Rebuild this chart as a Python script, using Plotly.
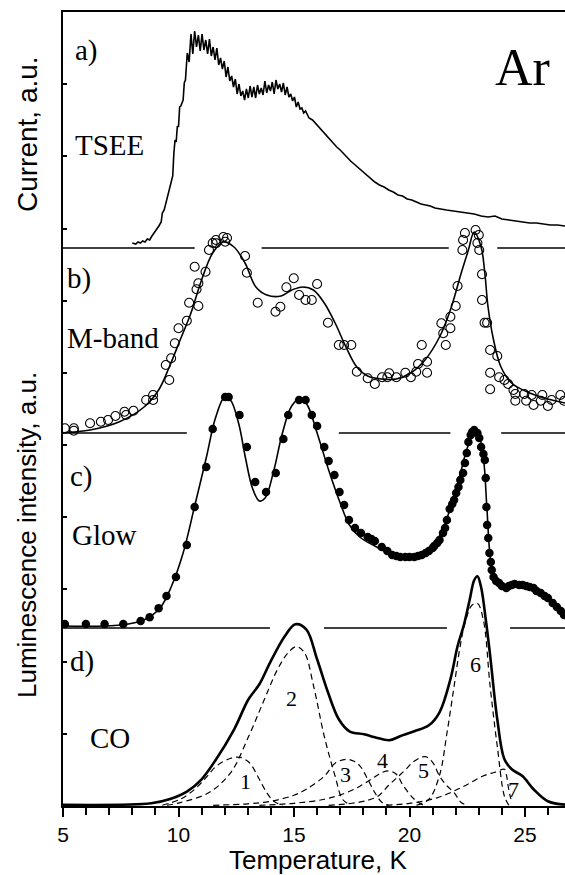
import plotly.graph_objects as go

# ---------------- data (intensities in arbitrary units) ----------------
# a) TSEE current
TSEE_T = [8.00, 8.15, 8.25, 8.35, 8.45, 8.55, 8.65, 8.75, 8.85, 8.95, 9.05, 9.15, 9.25, 9.30, 9.38,
          9.45, 9.52, 9.60, 9.68, 9.75, 9.80, 9.85, 9.90, 9.95, 10.00, 10.05, 10.10, 10.15, 10.20,
          10.25, 10.30, 10.38, 10.46, 10.54, 10.62, 10.70, 10.78, 10.86, 10.94, 11.02, 11.10, 11.18,
          11.26, 11.34, 11.42, 11.50, 11.58, 11.66, 11.74, 11.82, 11.90, 11.98, 12.06, 12.14, 12.22,
          12.30, 12.38, 12.46, 12.54, 12.62, 12.70, 12.78, 12.86, 12.94, 13.02, 13.10, 13.18, 13.26,
          13.34, 13.42, 13.50, 13.58, 13.66, 13.74, 13.82, 13.90, 13.98, 14.06, 14.14, 14.22, 14.30,
          14.38, 14.46, 14.54, 14.62, 14.70, 14.78, 14.86, 14.94, 15.02, 15.10, 15.18, 15.26, 15.34,
          15.42, 15.50, 15.65, 15.80, 15.95, 16.10, 16.25, 16.40, 16.55, 16.70, 16.85, 17.00, 17.15,
          17.30, 17.45, 17.60, 17.75, 17.90, 18.05, 18.20, 18.35, 18.50, 18.70, 18.90, 19.10, 19.30,
          19.50, 19.70, 19.90, 20.10, 20.30, 20.50, 20.70, 20.90, 21.10, 21.30, 21.60, 21.90, 22.20,
          22.50, 22.80, 23.10, 23.40, 23.70, 24.00, 24.30, 24.60, 24.90, 25.20, 25.50, 25.80, 26.10,
          26.40, 26.73]
TSEE_I = [5, 4, 6, 5, 7, 6, 9, 8, 12, 15, 18, 22, 26, 35, 38,
          45, 52, 58, 66, 72, 95, 108, 106, 122, 121, 141, 142, 145, 148,
          165, 168, 195, 186, 214, 194, 217, 201, 213, 197, 214, 198, 208,
          194, 209, 192, 201, 188, 200, 183, 190, 179, 187, 171, 181, 167,
          172, 161, 169, 154, 164, 152, 157, 148, 159, 150, 162, 151, 161,
          150, 163, 154, 160, 153, 167, 155, 163, 157, 166, 154, 168, 159,
          164, 156, 165, 153, 161, 151, 154, 147, 151, 141, 146, 139, 140,
          135, 137, 130, 128, 124, 120, 116, 112, 108, 104, 101, 98, 94,
          91, 87, 84, 81, 78, 75, 72, 69, 66, 63, 61, 58, 56,
          53, 52, 49, 48, 46, 44, 43, 42, 40, 39, 38, 37, 36,
          35, 34, 32, 31, 32, 29, 28, 27, 26, 25, 25, 24, 23,
          23, 22]

# b) M-band: measured points (open circles) and fitted curve
MB_T = [5.08, 5.47, 5.47, 6.17, 6.64, 6.95, 7.27, 7.66, 7.73, 8.05, 8.6, 8.9, 8.9, 9.45, 9.68, 9.6,
        9.84, 10.0, 10.36, 10.46, 10.78, 10.86, 10.86, 10.7, 11.17, 11.32, 11.48, 11.62, 11.63,
        11.94, 12.02, 12.1, 12.88, 12.96, 13.43, 14.2, 14.41, 14.67, 14.99, 15.22, 15.5, 15.77,
        16.0, 16.47, 16.94, 17.17, 17.48, 17.72, 18.19, 18.5, 18.81, 19.04, 19.12, 19.43, 19.82,
        20.06, 20.29, 20.37, 20.53, 20.76, 20.76, 21.38, 21.46, 21.57, 21.77, 21.77, 22.0, 22.08,
        22.29, 22.32, 22.4, 22.86, 23.0, 22.94, 23.02, 23.14, 23.14, 23.25, 23.36, 23.49, 23.8,
        23.49, 23.49, 23.88, 24.11, 24.27, 24.5, 24.58, 24.58, 24.97, 25.05, 25.29, 25.37, 25.68,
        25.75, 25.99, 26.15, 26.53, 26.69]
MB_I = [4.7, 4.7, 2.3, 9.7, 11.3, 13, 17, 21.3, 18, 22.3, 33, 38, 33, 68, 74.7, 53,
        89.7, 104.7, 112.3, 130.3, 143.7, 149.7, 127, 166.3, 161.3, 183, 190, 193, 189.7,
        196, 191.3, 195, 177, 160.3, 130.3, 121.3, 126.3, 145.7, 154.7, 138, 133, 133,
        149, 110.3, 88, 88, 88, 61.3, 54.7, 49, 55.7, 55.7, 59.7, 55.7, 60.3,
        55.7, 61.3, 69, 88, 71.3, 60.3, 109.7, 99.7, 88, 104.7, 116.3, 127, 147,
        183, 193, 200, 203, 198, 190, 183, 158.7, 133, 110.3, 110.3, 83, 77,
        60.3, 43.7, 55.7, 53, 49, 43, 39, 32.3, 39, 32.3, 38, 28, 32.3,
        38, 27, 33, 38, 32.3]
MB_FIT_T = [5.0, 6.17, 7.42, 8.51, 9.14, 9.6, 10.07, 10.54, 11.0, 11.48, 11.94, 12.4, 12.88, 13.35,
            13.82, 14.44, 14.91, 15.38, 15.84, 16.31, 16.78, 17.25, 17.72, 18.19, 18.8, 19.43, 20.05,
            20.67, 21.3, 21.77, 22.24, 22.55, 22.8, 23.1, 23.26, 23.4, 23.64, 23.96, 24.42, 25.2,
            25.98, 26.73]
MB_FIT_I = [0.3, 3, 11, 26, 43, 66, 93, 120, 153, 180, 191, 186, 170, 146,
            138, 137, 143, 146, 143, 130, 110, 86, 66, 57, 54, 54, 60,
            73, 96, 123, 160, 183, 201, 186, 160, 126, 93, 66, 50, 40,
            34, 30]

# c) Glow: measured points (filled circles) and fitted curve
GL_T = [5.08, 5.99, 6.8, 7.61, 8.36, 8.75, 9.14, 9.48, 9.89, 10.36, 10.7, 11.2, 11.48, 12.02, 12.17,
        12.64, 12.96, 13.32, 13.79, 14.21, 14.54, 14.75, 15.22, 15.5, 15.77, 16.0, 16.31, 16.5,
        16.75, 16.97, 17.17, 17.38, 17.64, 17.9, 18.19, 18.35, 18.5, 18.8, 19.04, 19.25, 19.43,
        19.6, 19.82, 20.0, 20.21, 20.37, 20.53, 20.7, 20.84, 21.0, 21.07, 21.2, 21.3, 21.45, 21.54,
        21.62, 21.74, 21.85, 21.93, 22.02, 22.12, 22.2, 22.32, 22.4, 22.48, 22.55, 22.65, 22.71,
        22.8, 22.94, 23.02, 23.1, 23.2, 23.26, 23.3, 23.33, 23.36, 23.41, 23.46, 23.52, 23.56,
        23.64, 23.75, 23.88, 24.0, 24.19, 24.3, 24.43, 24.55, 24.74, 24.9, 25.05, 25.2, 25.37,
        25.5, 25.68, 25.85, 25.99, 26.2, 26.38, 26.55, 26.69]
GL_I = [4, 4, 4, 4, 7, 10.7, 19.7, 32, 51, 83, 121, 161, 199, 231, 231,
        213, 181, 146, 136, 155, 189, 213, 228, 228, 213, 202, 181, 167,
        153, 136, 123, 108, 100, 95, 91, 89, 87, 81, 77, 73, 72,
        71, 71, 71, 71, 72, 73, 75, 77, 80, 82, 85, 88, 95, 100,
        108, 119, 124, 128, 135, 141, 148, 155, 165, 175, 186, 193, 196,
        198, 195, 190, 181, 174, 168, 150, 121, 103, 90, 75, 66, 58,
        51, 47, 45, 42, 40, 42, 43, 44, 43, 43, 42, 41, 40,
        37, 35, 32, 30, 25, 21, 17, 13]
GL_FIT_T = [5.0, 7.5, 8.5, 9.2, 9.7, 10.2, 10.7, 11.2, 11.6, 12.0, 12.25, 12.6, 12.9, 13.2, 13.5,
            13.75, 14.1, 14.5, 14.9, 15.3, 15.6, 16.0, 16.5, 17.0, 17.4, 17.9, 18.5, 19.2, 19.8,
            20.3, 20.8, 21.3, 21.7, 22.1, 22.5, 22.8, 23.0, 23.2, 23.35, 23.5, 23.7, 24.0, 24.4,
            24.9, 25.4, 26.0, 26.73]
GL_FIT_I = [2, 3, 8, 20, 42, 75, 122, 170, 210, 231, 228, 205, 170, 140, 127,
            130, 155, 195, 222, 230, 222, 195, 158, 125, 103, 90, 82, 74, 71,
            72, 78, 92, 115, 145, 180, 195, 192, 170, 120, 70, 48, 42, 44,
            42, 38, 28, 12]

# d) CO: total curve and decomposition into components 1-7
CO_T = [5.0, 8.82, 9.6, 10.38, 11.0, 11.63, 12.41, 13.03, 13.5, 13.97, 14.6, 15.06, 15.53, 16.0,
        16.47, 16.94, 17.4, 18.03, 18.5, 19.12, 19.59, 20.21, 20.84, 21.3, 21.77, 22.08, 22.35,
        22.6, 22.8, 22.94, 23.1, 23.3, 23.49, 23.8, 24.11, 24.43, 24.9, 25.37, 25.99, 26.73]
CO_I = [0.5, 2, 6, 14, 26, 46, 76, 106, 121, 143, 169, 181, 176, 146,
        113, 86, 74, 71, 68, 65, 69, 74, 80, 93, 126, 159, 180,
        205, 225, 229, 218, 186, 150, 86, 46, 36, 29, 16, 4, 0.7]
COMP_T = {
    "1": [9.3, 10.07, 10.7, 11.2, 11.63, 12.26, 12.65, 13.0, 13.19, 13.5, 13.82, 14.13, 14.5],
    "2": [9.5, 10.07, 11.32, 12.26, 13.04, 13.66, 14.29, 14.75, 15.1, 15.45, 15.85, 16.31, 16.78, 17.1, 17.4],
    "3": [11.5, 13.0, 14.0, 15.0, 15.53, 16.31, 16.78, 17.25, 17.6, 17.87, 18.19, 18.5, 18.8, 19.1],
    "4": [13.5, 15.0, 16.31, 17.2, 17.87, 18.4, 18.8, 19.12, 19.43, 19.74, 20.21, 20.6],
    "5": [16.5, 17.5, 18.2, 18.65, 19.1, 19.43, 19.8, 20.2, 20.68, 21.0, 21.3, 21.6, 21.93, 22.24, 22.5],
    "6": [20.3, 20.84, 21.3, 21.62, 21.93, 22.2, 22.4, 22.7, 22.94, 23.2, 23.49, 23.8, 24.11, 24.3],
    "7": [19.0, 20.0, 20.84, 21.5, 22.08, 22.6, 23.18, 23.7, 24.11, 24.2, 24.27, 24.35, 24.43],
}
COMP_I = {
    "1": [0, 6, 16, 28, 39, 47, 48, 44, 39, 26, 12.7, 4, 0],
    "2": [0, 2.7, 12.7, 32.7, 69, 102.7, 136, 152.7, 158.7, 152.7, 119, 69, 29, 6, 1],
    "3": [0, 1.5, 4, 10, 16, 29, 42, 46, 44, 39, 26, 12.7, 3, 0],
    "4": [0, 2, 6, 12, 19.3, 27, 32.7, 34.3, 31, 19.3, 6, 0],
    "5": [0, 2, 5, 9.3, 20, 27, 35, 44, 48.7, 43, 29.3, 20, 12.7, 2.7, 0],
    "6": [0, 6, 30, 72, 119, 160, 182, 200, 202, 185, 119, 59, 9, 0],
    "7": [0, 2, 5.3, 10, 16, 22, 29.3, 33, 36, 30, 19.3, 10, 3],
}
COMP_LABEL_POS = {"1": (12.88, 24), "2": (14.88, 107), "3": (17.22, 31), "4": (18.84, 45),
                  "5": (20.6, 35), "6": (22.86, 141), "7": (24.51, 16)}

TICK_X = [5, 10, 15, 20, 25]

# ---------------- layout constants ----------------
W, H = 565, 875
ML, MR, MT, MB = 63, 0, 12, 69
PX_PER_K = 23.1
XMAX = 5 + (W - ML - MR) / PX_PER_K
PLOT_H = H - MT - MB
N_TICKS = 11
U = PLOT_H / N_TICKS          # pixels per y unit
SC = 1.0 / U                  # intensity (a.u.) -> y units

OFF = {"a": (H - MB - 248) / U, "b": (H - MB - 433) / U, "c": (H - MB - 628) / U, "d": 0.01}
SEPARATORS = {
    "a": [(5, 10.7), (13.6, 21.7), (23.8, XMAX)],
    "b": [(5, 10.36), (16.94, 21.77), (23.97, XMAX)],
    "c": [(5, 13.96), (16.3, 21.62), (24.35, XMAX)],
}

def sc(vals, panel):
    return [OFF[panel] + v * SC for v in vals]

def py(pix):  # page pixel -> y units
    return (H - MB - pix) / U

def px(pix):
    return 5 + (pix - ML) / PX_PER_K

fig = go.Figure()
BLACK = "black"

fig.add_trace(go.Scatter(x=TSEE_T, y=sc(TSEE_I, "a"), mode="lines",
                         line=dict(color=BLACK, width=1.6), hoverinfo="skip"))

fig.add_trace(go.Scatter(x=MB_FIT_T, y=sc(MB_FIT_I, "b"), mode="lines",
                         line=dict(color=BLACK, width=1.6, shape="spline", smoothing=1.0)))
fig.add_trace(go.Scatter(x=MB_T, y=sc(MB_I, "b"), mode="markers",
                         marker=dict(symbol="circle-open", size=9, color=BLACK, line=dict(width=1.1))))

fig.add_trace(go.Scatter(x=GL_FIT_T, y=sc(GL_FIT_I, "c"), mode="lines",
                         line=dict(color=BLACK, width=1.6, shape="spline", smoothing=1.0)))
fig.add_trace(go.Scatter(x=GL_T, y=sc(GL_I, "c"), mode="markers",
                         marker=dict(symbol="circle", size=8.5, color=BLACK)))

for k in COMP_T:
    fig.add_trace(go.Scatter(x=COMP_T[k], y=sc(COMP_I[k], "d"), mode="lines",
                             line=dict(color=BLACK, width=1.2, dash="6px,4px",
                                       shape="spline", smoothing=1.0)))
fig.add_trace(go.Scatter(x=CO_T, y=sc(CO_I, "d"), mode="lines",
                         line=dict(color=BLACK, width=2.6, shape="spline", smoothing=1.0)))

# separator lines
for p, segs in SEPARATORS.items():
    for x0, x1 in segs:
        fig.add_shape(type="line", xref="x", yref="y", x0=x0, x1=x1, y0=OFF[p], y1=OFF[p],
                      line=dict(color=BLACK, width=1.6))

SERIF = "Liberation Serif, Times New Roman, serif"
SANS = "Liberation Sans, Arial, sans-serif"

def label(text, xpix, ypix, size, anchor="left", font=SERIF):
    fig.add_annotation(x=px(xpix), y=py(ypix), xref="x", yref="y", text=text, showarrow=False,
                       xanchor=anchor, yanchor="middle", font=dict(family=font, size=size, color=BLACK))

label("a)", 73, 50, 29)
label("TSEE", 73, 145, 29)
label("b)", 65, 278, 29)
label("M-band", 65, 338, 29)
label("c)", 68, 476, 29)
label("Glow", 70, 535, 29)
label("d)", 68, 661, 29)
label("CO", 88, 738, 29)
label("Ar", 522, 67, 52, anchor="center")

for k, (tx, iv) in COMP_LABEL_POS.items():
    fig.add_annotation(x=tx, y=OFF["d"] + iv * SC, xref="x", yref="y", text=k, showarrow=False,
                       xanchor="center", yanchor="middle",
                       font=dict(family=SERIF, size=22, color=BLACK))

# axis titles (positions given in page pixels, converted to paper coordinates)
TITLES = [("Current, a.u.", 27, 134, 28, -90),
          ("Luminescence intensity, a.u.", 27, 535, 26, -90),
          ("Temperature, K", 318, 860, 26, 0)]
for text, xp, yp, size, ang in TITLES:
    fig.add_annotation(x=(xp - ML) / (W - ML - MR), y=(H - MB - yp) / PLOT_H,
                       xref="paper", yref="paper", text=text, showarrow=False, textangle=ang,
                       xanchor="center", yanchor="middle",
                       font=dict(family=SANS, size=size, color=BLACK))

fig.update_layout(
    width=W, height=H, margin=dict(l=ML, r=MR, t=MT, b=MB),
    paper_bgcolor="white", plot_bgcolor="white", showlegend=False,
    xaxis=dict(range=[5, XMAX], tickvals=TICK_X, ticktext=[str(v) for v in TICK_X],
               ticks="outside", ticklen=9, tickwidth=2, tickcolor=BLACK,
               minor=dict(dtick=1, tick0=5, ticks="outside", ticklen=7, tickwidth=1.5, tickcolor=BLACK),
               showline=True, linewidth=2, linecolor=BLACK, mirror=True,
               showgrid=False, zeroline=False,
               tickfont=dict(family=SANS, size=21, color=BLACK)),
    yaxis=dict(range=[0, N_TICKS], dtick=1, tick0=0, ticks="inside", ticklen=4, tickwidth=1.5,
               tickcolor=BLACK, showticklabels=False, showline=True, linewidth=2, linecolor=BLACK,
               showgrid=False, zeroline=False),
)

fig.write_html("out.html")
